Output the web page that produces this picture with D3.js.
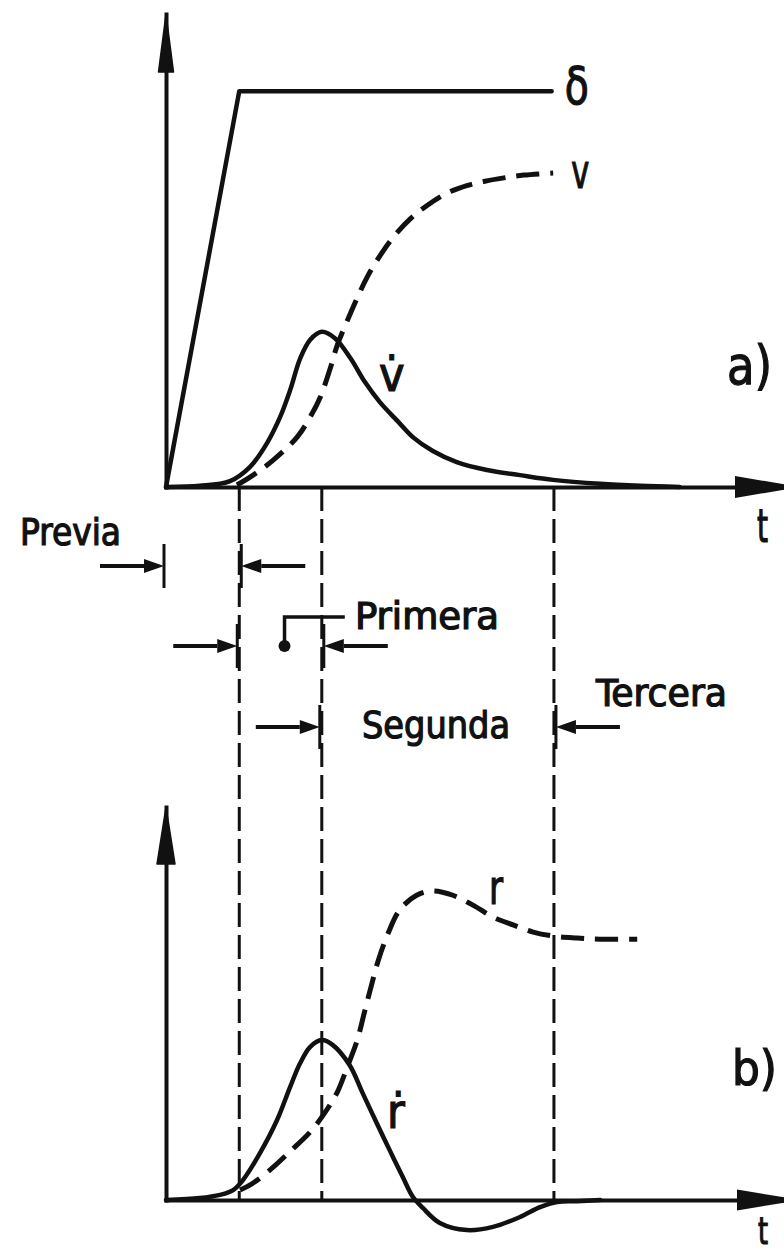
<!DOCTYPE html>
<html>
<head>
<meta charset="utf-8">
<script src="https://cdn.jsdelivr.net/npm/d3@7"></script>
<style>
  html, body { margin: 0; padding: 0; background: #fff; }
  svg { display: block; }
  text { font-family: "DejaVu Sans Condensed", "DejaVu Sans", sans-serif; font-weight: normal; fill: #111; stroke: #111; stroke-width: 1.2px; }
</style>
</head>
<body>
<svg id="chart" width="784" height="1254"></svg>
<script>
// ---- data -------------------------------------------------------------
// rudder angle (step input)
const deltaT = [0, 0.95, 5.0];
const deltaV = [0, 1, 1];

// lateral velocity v
const vT = [0.92, 1.13, 1.39, 1.70, 1.87, 2.00, 2.13, 2.22, 2.35, 2.48, 2.61, 2.78, 2.95, 3.17, 3.39, 3.65, 3.91, 4.12, 4.38, 4.64, 5.02];
const vV = [0.005, 0.030, 0.068, 0.126, 0.177, 0.227, 0.300, 0.358, 0.420, 0.478, 0.531, 0.586, 0.632, 0.678, 0.712, 0.743, 0.762, 0.772, 0.781, 0.788, 0.793];

// lateral acceleration v-dot
const vdT = [0, 0.44, 0.83, 1.09, 1.31, 1.48, 1.61, 1.74, 1.87, 2.02, 2.19, 2.39, 2.58, 2.77, 3.00, 3.20, 3.46, 3.77, 4.16, 4.59, 5.02, 5.63, 6.15, 6.66];
const vdV = [0, 0.003, 0.015, 0.051, 0.111, 0.177, 0.245, 0.325, 0.372, 0.392, 0.376, 0.326, 0.265, 0.215, 0.167, 0.126, 0.091, 0.063, 0.043, 0.030, 0.018, 0.008, 0.003, 0];

// yaw rate r
const rT = [0.96, 1.13, 1.39, 1.61, 1.87, 2.04, 2.22, 2.35, 2.48, 2.57, 2.66, 2.75, 2.88, 3.03, 3.25, 3.46, 3.72, 3.98, 4.24, 4.50, 4.76, 5.02, 5.33, 5.63, 6.11];
const rV = [0.025, 0.043, 0.083, 0.123, 0.172, 0.215, 0.272, 0.336, 0.404, 0.472, 0.540, 0.604, 0.674, 0.733, 0.770, 0.781, 0.770, 0.745, 0.715, 0.695, 0.677, 0.667, 0.662, 0.659, 0.659];

// yaw acceleration r-dot
const rdT = [0, 0.44, 0.70, 0.87, 1.00, 1.22, 1.44, 1.61, 1.74, 1.87, 2.02, 2.16, 2.38, 2.55, 2.73, 2.90, 3.07, 3.20, 3.33, 3.55, 3.90, 4.24, 4.59, 4.85, 5.07, 5.33, 5.63];
const rdV = [0, 0.005, 0.013, 0.025, 0.051, 0.119, 0.202, 0.286, 0.346, 0.387, 0.404, 0.392, 0.341, 0.270, 0.195, 0.126, 0.058, 0.008, -0.020, -0.058, -0.076, -0.068, -0.043, -0.018, -0.005, -0.003, 0];

// manoeuvre phases and their boundaries on the time axis
const phaseNames = ["Previa", "Primera", "Segunda"];
const phaseStart = [0, 0.95, 2.02];
const phaseEnd   = [0.95, 2.02, 5.03];
const boundaries = [0.95, 2.02, 5.03];

// ---- scales -----------------------------------------------------------
const svg = d3.select("#chart");
const ink = "#111";

const x = d3.scaleLinear().domain([0, 8]).range([166, 783]);
const yTop = d3.scaleLinear().domain([0, 1.195]).range([487, 14]);
const yBot = d3.scaleLinear().domain([0, 0.993]).range([1200, 807]);

const zip = (ts, vs) => ts.map((t, i) => [t, vs[i]]);

// ---- axes -------------------------------------------------------------
function drawAxes(yScale) {
  const gx = svg.append("g")
    .attr("transform", `translate(0,${yScale(0)})`)
    .call(d3.axisBottom(x).tickValues([]).tickSizeOuter(0));
  const gy = svg.append("g")
    .attr("transform", `translate(${x(0)},0)`)
    .call(d3.axisLeft(yScale).tickValues([]).tickSizeOuter(0));
  [gx, gy].forEach(g => g.select(".domain")
    .attr("stroke", ink).attr("stroke-width", 4).attr("stroke-linecap", "square"));
}
drawAxes(yTop);
drawAxes(yBot);

// arrowheads at the ends of the axes
function arrowUp(xc, tip, base, hw) {
  svg.append("path")
    .attr("d", `M${xc},${tip} L${xc + hw},${base} L${xc - hw},${base} Z`)
    .attr("fill", ink).attr("stroke", ink).attr("stroke-width", 1.5).attr("stroke-linejoin", "round");
}
function arrowRight(yc, base, tip, hh) {
  svg.append("path")
    .attr("d", `M${tip},${yc} L${base},${yc - hh} L${base},${yc + hh} Z`)
    .attr("fill", ink);
}
arrowUp(x(0), yTop.range()[1], 72, 7.5);
arrowUp(x(0), yBot.range()[1], 864, 9);
arrowRight(yTop(0), 735, 800, 11);
arrowRight(yBot(0), 737, 800, 10.5);

// ---- phase boundaries -------------------------------------------------
svg.append("g").selectAll("line")
  .data(boundaries)
  .join("line")
  .attr("x1", d => x(d)).attr("x2", d => x(d))
  .attr("y1", yTop(0)).attr("y2", yBot(0))
  .attr("stroke", ink).attr("stroke-width", 3)
  .attr("stroke-dasharray", "24 8");

// ---- curves -----------------------------------------------------------
function curve(data, yScale, dashed, width, curveType) {
  const line = d3.line()
    .x(d => x(d[0])).y(d => yScale(d[1]))
    .curve(curveType || d3.curveCatmullRom.alpha(0.5));
  svg.append("path")
    .datum(data)
    .attr("d", line)
    .attr("fill", "none")
    .attr("stroke", ink)
    .attr("stroke-width", width)
    .attr("stroke-linecap", dashed ? "butt" : "round")
    .attr("stroke-linejoin", "round")
    .attr("stroke-dasharray", dashed ? "23 11" : null);
}
curve(zip(deltaT, deltaV), yTop, false, 4.5, d3.curveLinear);
curve(zip(vT, vV), yTop, true, 5);
curve(zip(vdT, vdV), yTop, false, 4.5);
curve(zip(rT, rV), yBot, true, 5);
curve(zip(rdT, rdV), yBot, false, 4.5);

// ---- phase arrows -----------------------------------------------------
const rowY = [566, 646, 727];
const arrowLen = 64, headLen = 20, headHw = 7;

function hArrow(tipX, y, dir) {
  // dir = +1 points right, -1 points left
  const tail = tipX - dir * arrowLen;
  const base = tipX - dir * headLen;
  svg.append("line")
    .attr("x1", tail).attr("x2", base).attr("y1", y).attr("y2", y)
    .attr("stroke", ink).attr("stroke-width", 4);
  svg.append("path")
    .attr("d", `M${tipX},${y} L${base},${y - headHw} L${base},${y + headHw} Z`)
    .attr("fill", ink);
  svg.append("line")
    .attr("x1", tipX).attr("x2", tipX).attr("y1", y - 22).attr("y2", y + 22)
    .attr("stroke", ink).attr("stroke-width", 3);
}
phaseNames.forEach((name, i) => {
  hArrow(x(phaseStart[i]) - 2, rowY[i], +1);
  hArrow(x(phaseEnd[i]) + 2, rowY[i], -1);
});

// leader from the "Primera" label to the marker inside its interval
const midPrimera = x((phaseStart[1] + phaseEnd[1]) / 2) + 4;
svg.append("path")
  .attr("d", `M${x(phaseEnd[1]) + 23},617 H${midPrimera} V643`)
  .attr("fill", "none").attr("stroke", ink).attr("stroke-width", 3.5);
svg.append("circle")
  .attr("cx", midPrimera).attr("cy", 646).attr("r", 6).attr("fill", ink);

// ---- text -------------------------------------------------------------
function label(txt, xp, yp, size, len) {
  const t = svg.append("text")
    .attr("x", xp).attr("y", yp)
    .attr("font-size", size)
    .text(txt);
  if (len) t.attr("textLength", len).attr("lengthAdjust", "spacingAndGlyphs");
  return t;
}
label("Previa", 20, 545, 38, 101);
label("Primera", 355, 629, 37, 144);
label("Segunda", 362, 738, 38, 148);
label("Tercera", 596, 706, 38, 131);

label("δ", x(deltaT[2]) + 13, 104, 52, 24);
label("v", x(vT[vT.length - 1]) + 18, 188, 48, 18);
label("v\u0307", 379, 391, 48);
label("r", 489, 904, 48, 14);
label("r\u0307", 387, 1128, 48);

label("a)", 727, 384, 54, 45);
label("b)", 732, 1085, 48, 45);
label("t", 757, 542, 46, 11);
label("t", 758, 1244, 38, 10);
</script>
</body>
</html>
